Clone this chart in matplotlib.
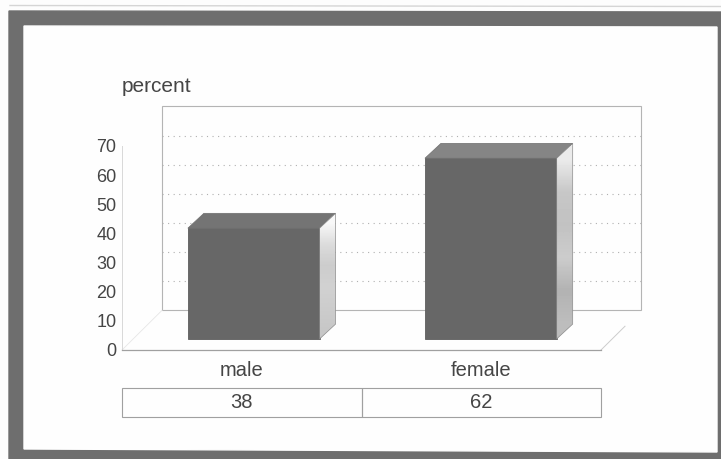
import numpy as np
import matplotlib
matplotlib.use('Agg')
import matplotlib.pyplot as plt
from matplotlib.patches import Polygon

categories = ['male', 'female']
percent = [38, 62]
y_ticks = [0, 10, 20, 30, 40, 50, 60, 70]
grid_levels = [10, 20, 30, 40, 50, 60]

W, H = 721, 459
# depth of the fake 3d box in data units
floor_dx = 40 / 239.5
floor_dy = 13.6
bar_dx = 16 / 239.5
bar_dy = 5.1
bar_base = 3.8
bar_width = 0.55
bar_x = [0.05, 1.04]
top_colors = ['#747474', '#858585']
side_shades = [[0.97, 0.86, 0.80, 0.82, 0.80, 0.78],
               [0.92, 0.78, 0.76, 0.80, 0.70, 0.74]]

plt.rcParams['font.family'] = ['Liberation Sans', 'DejaVu Sans']
text_color = '#454545'

fig = plt.figure(figsize=(W / 100, H / 100), dpi=100, facecolor='#fdfdfd')

# scanned grey frame, slightly tilted
frame = fig.add_axes([0, 0, 1, 1])
frame.set_xlim(0, W)
frame.set_ylim(H, 0)
frame.axis('off')
frame.plot([10, 721], [5.5, 6.5], color='#d5d5d5', lw=1)
frame.add_patch(Polygon([(9, 11), (721, 12), (721, 459), (9, 459)], closed=True, color='#6e6e6e'))
frame.add_patch(Polygon([(24, 26), (717, 27), (717, 452), (24, 449)], closed=True, color='#fefefe'))

ax = fig.add_axes([122 / W, 1 - 350 / H, 479 / W, 204 / H])
ax.patch.set_alpha(0)

# back wall and floor
x0, x1 = -0.5, 1.5
ax.add_patch(Polygon([(x0 + floor_dx, floor_dy), (x0 + floor_dx, 70 + floor_dy),
                      (x1 + floor_dx, 70 + floor_dy), (x1 + floor_dx, floor_dy)],
                     closed=True, fill=False, ec='#b4b4b4', lw=0.8, clip_on=False))
ax.plot([x0, x0 + floor_dx], [0, floor_dy], color='#e6e6e6', lw=0.6, clip_on=False)
ax.plot([x1, x1 + floor_dx * 0.6], [0, floor_dy * 0.6], color='#cccccc', lw=0.7, clip_on=False)
for level in grid_levels:
    ax.plot([x0 + floor_dx, x1 + floor_dx], [level + floor_dy] * 2, color='#b0b0b0',
            lw=0.8, ls=(0, (1, 4)), zorder=1, clip_on=False)

# bars with top and side faces
ax.bar(bar_x, percent, bar_width, bottom=bar_base, color='#676767', edgecolor='#5e5e5e',
       linewidth=0.6, zorder=3)
for x, value, top_color, shade in zip(bar_x, percent, top_colors, side_shades):
    left = x - bar_width / 2
    right = x + bar_width / 2
    top = value + bar_base
    ax.add_patch(Polygon([(left, top), (left + bar_dx, top + bar_dy),
                          (right + bar_dx, top + bar_dy), (right, top)],
                         closed=True, fc=top_color, ec='#707070', lw=0.5, zorder=3, clip_on=False))
    side = Polygon([(right, bar_base), (right, top), (right + bar_dx, top + bar_dy),
                    (right + bar_dx, bar_base + bar_dy)],
                   closed=True, fc='none', ec='#8c8c8c', lw=0.5, zorder=4, clip_on=False)
    ax.add_patch(side)
    im = ax.imshow(np.array(shade).reshape(-1, 1), cmap='gray', vmin=0, vmax=1, aspect='auto',
                   zorder=3, interpolation='bilinear',
                   extent=(right, right + bar_dx, bar_base, top + bar_dy))
    im.set_clip_path(side)

ax.set_xlim(-0.5, 1.5)
ax.set_ylim(0, 70)

for name in ['top', 'right']:
    ax.spines[name].set_visible(False)
ax.spines['left'].set_color('#d8d8d8')
ax.spines['left'].set_linewidth(0.7)
ax.spines['bottom'].set_color('#a0a0a0')
ax.spines['bottom'].set_linewidth(0.9)

ax.set_yticks(y_ticks)
ax.tick_params(axis='y', length=0, pad=4, labelsize=13, labelcolor=text_color)
ax.set_xticks(range(len(categories)))
ax.set_xticklabels(categories)
ax.tick_params(axis='x', length=0, pad=8, labelsize=14.5, labelcolor=text_color)

ax.text(0, 1.29, 'percent', transform=ax.transAxes, fontsize=15, color=text_color,
        ha='left', va='center')

table = ax.table(cellText=[[str(v) for v in percent]], cellLoc='center',
                 bbox=[0, -0.33, 1, 0.142])
table.auto_set_font_size(False)
for cell in table.get_celld().values():
    cell.set_edgecolor('#a0a0a0')
    cell.set_linewidth(0.8)
    cell.set_facecolor('none')
    cell.get_text().set_fontsize(14.5)
    cell.get_text().set_color(text_color)

fig.savefig('out.png', dpi=100, facecolor=fig.get_facecolor())
